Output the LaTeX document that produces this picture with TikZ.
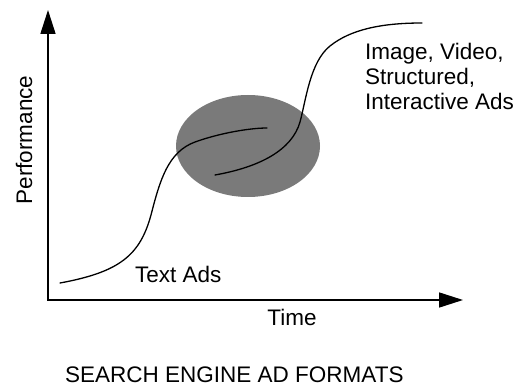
\documentclass[tikz,border=0pt]{standalone}
\usepackage{fontspec}
\setmainfont{Liberation Sans}
\usetikzlibrary{arrows.meta}

\begin{document}
\begin{tikzpicture}[x=1pt, y=-1pt,
    axis/.style={line width=1.6pt, {Triangle[length=24pt,width=15pt]}-{Triangle[length=24pt,width=15pt]}},
    growth/.style={line width=1.3pt, line cap=round},
    lbl/.style={inner sep=0pt, font=\fontsize{22.5}{25}\selectfont}]
  \useasboundingbox (0,0) rectangle (517,387);

  % Axes
  \coordinate (ytop) at (48,10);
  \coordinate (origin) at (48,300);
  \coordinate (xend) at (463,300);
  \draw[axis] (ytop) -- (origin) -- (xend);
  \node[lbl, rotate=90] (perf) at (24,140) {Performance};
  \node[lbl, anchor=base] (time) at (292,326) {Time};

  % Overlap of the two formats
  \fill[black!52] (248,146) ellipse (72 and 51);

  % Text ads curve
  \draw[growth] (60,283) .. controls (120,272) and (140,255) .. (151,215)
    .. controls (160,180) and (168,152) .. (195,142)
    .. controls (220,133) and (250,128) .. (267,128);
  \node[lbl, anchor=base west] (textads) at (135,283) {Text Ads};

  % Rich ads curve
  \draw[growth] (215,175) .. controls (260,167) and (292,150) .. (300,122)
    .. controls (306,100) and (310,62) .. (330,46)
    .. controls (350,30) and (380,23) .. (422,23);
  \node[lbl, anchor=base west, align=left] (richads) at (365,110)
    {Image, Video,\\Structured,\\Interactive Ads};

  % Caption
  \node[lbl, anchor=base west] (caption) at (65,383) {SEARCH ENGINE AD FORMATS};
\end{tikzpicture}
\end{document}
